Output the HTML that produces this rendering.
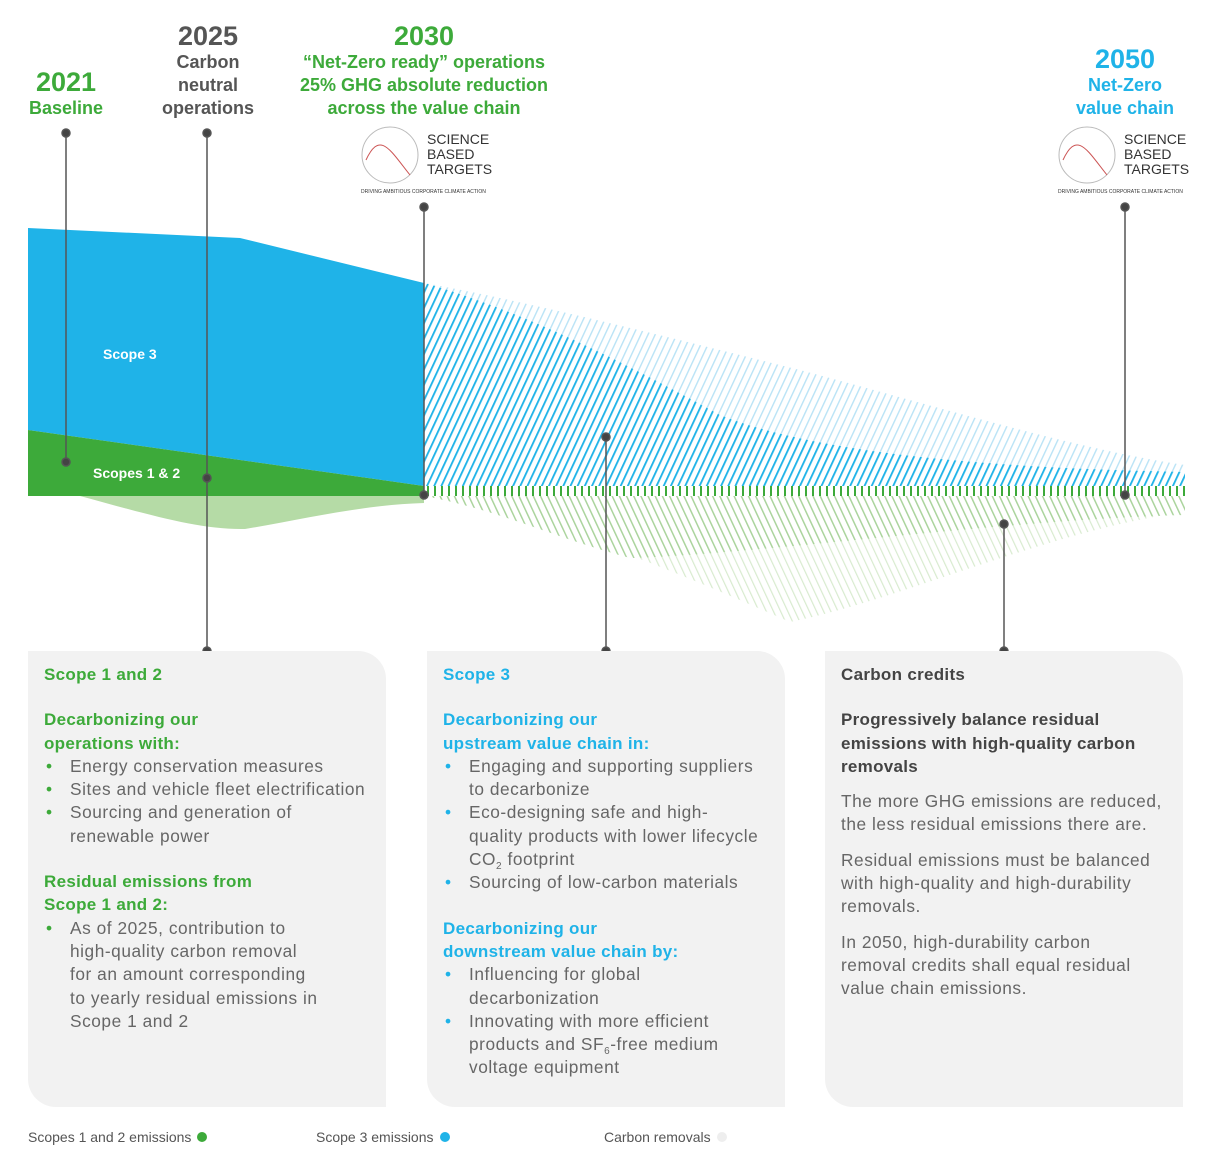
<!DOCTYPE html>
<html><head><meta charset="utf-8"><style>
body{margin:0;width:1218px;height:1156px;background:#fff;font-family:"Liberation Sans",sans-serif;position:relative;overflow:hidden}
.t{position:absolute;text-align:center;font-weight:bold;font-size:18px;line-height:23px}
.card{position:absolute;top:651px;width:358px;height:456px;background:#f2f2f2;border-radius:0 28px 0 28px}
.card .in{position:absolute;left:16px;top:12px;right:10px;font-size:17.3px;line-height:23.3px;color:#666;letter-spacing:0.55px}
h3{margin:0 0 22px;font-size:17px;font-weight:bold;letter-spacing:0.3px}
h4{margin:0;font-size:17px;font-weight:bold;letter-spacing:0.3px}
ul{margin:0 0 22px;padding:0;list-style:none}
li{position:relative;padding-left:26px}
li:before{content:"•";position:absolute;left:2px}
.g h3,.g h4,.g li:before{color:#3daa3a}
.b h3,.b h4,.b li:before{color:#1fb3e8}
p{margin:0 0 12px}
sub{font-size:10px;line-height:0;vertical-align:-4px}
.leg{position:absolute;top:1129px;font-size:14px;color:#555}
.dot{display:inline-block;width:10px;height:10px;border-radius:50%;margin-left:6px}
</style></head><body>
<svg width="1218" height="1156" style="position:absolute;left:0;top:0">
<defs>
<pattern id="hb" width="6.5" height="7" patternUnits="userSpaceOnUse" patternTransform="rotate(25)"><rect width="1.8" height="7" fill="#1fb3e8"/></pattern>
<pattern id="hl" width="6.5" height="7" patternUnits="userSpaceOnUse" patternTransform="rotate(25)"><rect width="1.4" height="7" fill="#b9e3f6"/></pattern>
<pattern id="gd" width="6.5" height="7" patternUnits="userSpaceOnUse" patternTransform="rotate(-25)"><rect width="1.4" height="7" fill="#a9d39b"/></pattern>
<pattern id="gl" width="6.5" height="7" patternUnits="userSpaceOnUse" patternTransform="rotate(-25)"><rect width="1.2" height="7" fill="#d8ebcf"/></pattern>
<pattern id="gv" width="7" height="10" patternUnits="userSpaceOnUse"><rect width="2" height="10" fill="#3daa3a"/></pattern>
</defs>
<path d="M424 283 C520 300 640 330 800 370 C950 410 1080 450 1185 465 L1185 486 L424 486Z" fill="url(#hl)"/>
<path d="M424 283 C520 310 620 360 720 415 C820 455 1000 468 1185 472 L1185 486 L424 486Z" fill="url(#hb)"/>
<rect x="424" y="486" width="761" height="10" fill="url(#gv)"/>
<path d="M424 496 C550 520 650 560 790 622 C900 600 1050 530 1185 512 L1185 496Z" fill="url(#gl)"/>
<path d="M424 496 C500 510 560 540 630 558 C750 555 1000 520 1185 515 L1185 496Z" fill="url(#gd)"/>
<path d="M28 228 L240 238 L424 283 L424 486 L28 430Z" fill="#1fb3e8"/>
<path d="M28 430 L424 486 L424 496 L28 496Z" fill="#3daa3a"/>
<path d="M80 496 C150 515 200 530 245 529 C300 520 360 505 424 503 L424 496Z" fill="#b5dba6"/>
<g stroke="#555" stroke-width="1.5" fill="#444">
<line x1="66" y1="133" x2="66" y2="462"/><circle cx="66" cy="133" r="4"/><circle cx="66" cy="462" r="4"/>
<line x1="207" y1="133" x2="207" y2="651"/><circle cx="207" cy="133" r="4"/><circle cx="207" cy="478" r="4"/><circle cx="207" cy="651" r="4"/>
<line x1="424" y1="207" x2="424" y2="495"/><circle cx="424" cy="207" r="4"/><circle cx="424" cy="495" r="4"/>
<line x1="606" y1="437" x2="606" y2="651"/><circle cx="606" cy="437" r="4"/><circle cx="606" cy="651" r="4"/>
<line x1="1004" y1="524" x2="1004" y2="651"/><circle cx="1004" cy="524" r="4"/><circle cx="1004" cy="651" r="4"/>
<line x1="1125" y1="207" x2="1125" y2="495"/><circle cx="1125" cy="207" r="4"/><circle cx="1125" cy="495" r="4"/>
</g>
<g fill="none" stroke-width="1">
<circle cx="390" cy="155" r="28" stroke="#bbb"/><circle cx="1087" cy="155" r="28" stroke="#bbb"/>
<path d="M366 160 C380 130 390 150 410 175" stroke="#c55"/><path d="M1063 160 C1077 130 1087 150 1107 175" stroke="#c55"/>
</g>
<g font-family="Liberation Sans" fill="#333" font-size="14">
<text x="427" y="144">SCIENCE</text><text x="427" y="159">BASED</text><text x="427" y="174">TARGETS</text>
<text x="1124" y="144">SCIENCE</text><text x="1124" y="159">BASED</text><text x="1124" y="174">TARGETS</text>
<text x="361" y="193" font-size="5">DRIVING AMBITIOUS CORPORATE CLIMATE ACTION</text>
<text x="1058" y="193" font-size="5">DRIVING AMBITIOUS CORPORATE CLIMATE ACTION</text>
</g>
<text x="103" y="359" fill="#fff" font-family="Liberation Sans" font-weight="bold" font-size="14">Scope 3</text>
<text x="93" y="478" fill="#fff" font-family="Liberation Sans" font-weight="bold" font-size="14">Scopes 1 &amp; 2</text>
<g stroke="#3daa3a" stroke-width="2" fill="none"><line x1="348" y1="665" x2="348" y2="708"/><path d="M348 680 L335 690 M348 680 L362 690 M348 680 L348 664"/><line x1="332" y1="708" x2="364" y2="708"/></g>
<g stroke="#1fb3e8" stroke-width="2" fill="none"><path d="M722 690 A24 24 0 0 1 768 690 Z"/><line x1="745" y1="690" x2="740" y2="682"/></g>
<g stroke="#444" stroke-width="2" fill="none"><path d="M1121 704 L1121 680 L1130 690 L1138 680 L1146 690 L1152 664 L1156 664 L1160 704 Z"/></g>
</svg>
<div class="t" style="left:16px;top:68px;width:100px;color:#3daa3a"><span style="font-size:27px;line-height:28px">2021</span><br>Baseline</div>
<div class="t" style="left:148px;top:22px;width:120px;color:#555"><span style="font-size:27px;line-height:28px">2025</span><br>Carbon<br>neutral<br>operations</div>
<div class="t" style="left:274px;top:22px;width:300px;color:#3daa3a"><span style="font-size:27px;line-height:28px">2030</span><br>“Net-Zero ready” operations<br>25% GHG absolute reduction<br>across the value chain</div>
<div class="t" style="left:1050px;top:45px;width:150px;color:#1fb3e8"><span style="font-size:27px;line-height:28px">2050</span><br>Net-Zero<br>value chain</div>
<div class="card g" style="left:28px"><div class="in">
<h3>Scope 1 and 2</h3><h4>Decarbonizing our<br>operations with:</h4>
<ul><li>Energy conservation measures</li><li>Sites and vehicle fleet electrification</li><li>Sourcing and generation of<br>renewable power</li></ul>
<h4>Residual emissions from<br>Scope 1 and 2:</h4>
<ul><li>As of 2025, contribution to<br>high-quality carbon removal<br>for an amount corresponding<br>to yearly residual emissions in<br>Scope 1 and 2</li></ul></div></div>
<div class="card b" style="left:427px"><div class="in">
<h3>Scope 3</h3><h4>Decarbonizing our<br>upstream value chain in:</h4>
<ul><li>Engaging and supporting suppliers<br>to decarbonize</li><li>Eco-designing safe and high-<br>quality products with lower lifecycle<br>CO<sub>2</sub> footprint</li><li>Sourcing of low-carbon materials</li></ul>
<h4>Decarbonizing our<br>downstream value chain by:</h4>
<ul><li>Influencing for global<br>decarbonization</li><li>Innovating with more efficient<br>products and SF<sub>6</sub>-free medium<br>voltage equipment</li></ul></div></div>
<div class="card" style="left:825px"><div class="in">
<h3 style="color:#444">Carbon credits</h3><h4 style="color:#444;margin-bottom:12px">Progressively balance residual<br>emissions with high-quality carbon<br>removals</h4>
<p>The more GHG emissions are reduced,<br>the less residual emissions there are.</p>
<p>Residual emissions must be balanced<br>with high-quality and high-durability<br>removals.</p>
<p>In 2050, high-durability carbon<br>removal credits shall equal residual<br>value chain emissions.</p></div></div>
<div class="leg" style="left:28px">Scopes 1 and 2 emissions<span class="dot" style="background:#3daa3a"></span></div>
<div class="leg" style="left:316px">Scope 3 emissions<span class="dot" style="background:#1fb3e8"></span></div>
<div class="leg" style="left:604px">Carbon removals<span class="dot" style="background:#eee"></span></div>
</body></html>
